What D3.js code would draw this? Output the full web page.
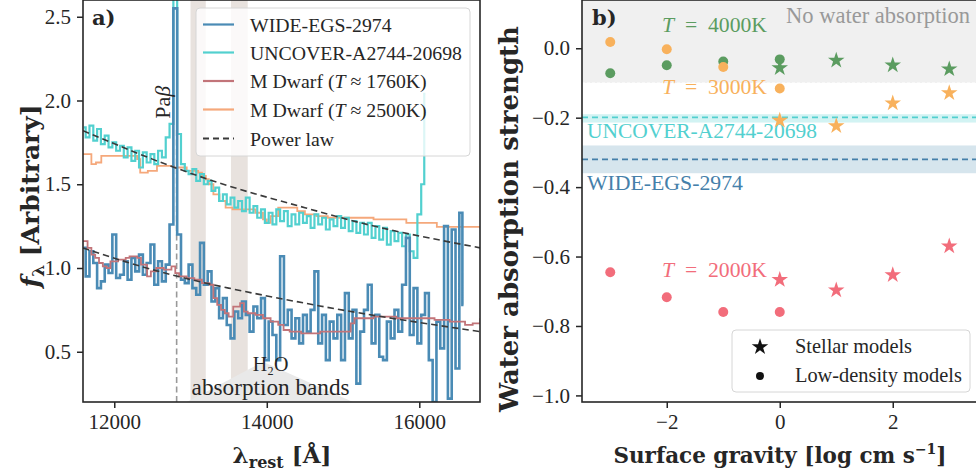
<!DOCTYPE html>
<html><head><meta charset="utf-8">
<script src="https://cdn.jsdelivr.net/npm/d3@7"></script>
<style>
body{margin:0;background:#fff;}
svg{display:block;}
text{font-family:"Liberation Serif",serif;fill:#262626;}
.bold{font-family:"DejaVu Serif",serif;font-weight:bold;}
</style></head>
<body>
<div id="chart"></div>
<script>
// ---------------- DATA ----------------
// Panel a: spectra (regular 50 Å grids + explicit tails)
const wideStart = 11600, wideStep = 50;
const wideFlux = [
 1.12,0.95,1.10,1.03,0.88,0.92,1.02,0.97,1.20,0.94,
 0.96,1.04,0.93,1.06,0.98,1.08,0.96,1.03,1.14,0.90,
 1.04,0.92,1.02,1.26,2.55,1.20,0.93,0.91,1.02,0.88,
 0.84,1.15,0.90,0.98,0.80,0.88,0.70,0.82,0.66,0.58,
 0.74,0.70,0.80,0.72,0.62,0.77,0.70,0.82,0.45,0.68,
 0.60,0.45,1.07,0.66,0.75,0.58,0.70,0.55,0.72,0.62,
 0.75,0.98,0.55,0.72,0.45,0.68,0.58,0.72,0.45,0.85,
 0.58,0.75,0.31,0.62,0.75,0.90,0.55,0.72,0.47,0.45,
 0.68,0.58,0.75,0.62,0.90,1.18,0.60,0.88,0.55,0.72,
 0.85,0.45,0.20,0.68,0.52,1.25,0.22,1.23,0.40,1.33];
const wideTailWave = [16580], wideTailFlux = [0.78];

const uncoverStart = 11600, uncoverStep = 50;
const uncoverFlux = [
 1.84,1.78,1.85,1.76,1.83,1.74,1.79,1.72,1.75,1.70,
 1.73,1.66,1.72,1.64,1.70,1.60,1.69,1.63,1.68,1.62,
 1.70,1.66,1.78,1.86,2.90,1.80,1.62,1.58,1.56,1.59,
 1.52,1.56,1.50,1.52,1.46,1.48,1.40,1.44,1.38,1.42,
 1.36,1.40,1.34,1.42,1.33,1.37,1.30,1.35,1.27,1.33,
 1.26,1.35,1.28,1.34,1.25,1.32,1.26,1.33,1.27,1.31,
 1.24,1.32,1.26,1.30,1.23,1.29,1.25,1.31,1.24,1.30,
 1.22,1.28,1.21,1.27,1.20,1.27,1.18,1.25,1.17,1.24,
 1.14,1.22,1.16,1.21,1.13,1.20,1.10,1.06,1.32,1.50];
const uncoverTailWave = [16080], uncoverTailFlux = [2.04];

const dwarf1760Wave = [11590,11650,11700,11750,11800,11850,11900,11950,12050,12150,
 12200,12300,12350,12430,12480,12550,12650,12750,12800,12850,
 12950,13050,13150,13250,13300,13350,13400,13450,13500,13560,
 13650,13700,13750,13850,13950,14050,14150,14220,14300,14450,
 14700,14900,15050,15100,15150,15400,15700,15960,16200,16400,
 16600,16700,16800];
const dwarf1760Flux = [1.16,1.12,1.08,1.06,1.03,1.01,1.00,1.04,1.05,1.06,
 1.07,1.06,1.02,0.95,0.98,1.00,0.99,1.01,0.97,0.95,
 0.94,0.93,0.91,0.90,0.82,0.78,0.75,0.73,0.71,0.77,
 0.79,0.74,0.73,0.72,0.70,0.68,0.66,0.63,0.62,0.61,
 0.62,0.62,0.62,0.67,0.70,0.71,0.70,0.70,0.69,0.68,
 0.66,0.67,0.70];

const dwarf2500Wave = [11590,11700,11760,11830,11880,12300,12340,12440,12560,12780,
 12950,13100,13150,13200,13240,13300,13380,13460,13550,13850,
 13950,14000,14050,14150,14400,14500,14650,14800,15400,15830,
 16200,16230,16800];
const dwarf2500Flux = [1.68,1.62,1.63,1.67,1.67,1.65,1.57,1.58,1.61,1.60,
 1.58,1.57,1.55,1.53,1.50,1.44,1.40,1.36,1.35,1.33,
 1.29,1.27,1.31,1.36,1.34,1.32,1.31,1.30,1.29,1.27,
 1.27,1.245,1.235];

// power-law curves
const powerWave = [11590,12500,13500,14500,15500,16800];
const powerUpper = [1.82,1.65,1.49,1.36,1.24,1.12];
const powerLower = [1.12,0.99,0.88,0.79,0.71,0.62];

const waterBands = [[13000,13200],[13530,13750]];
const paBetaWave = 12818, paBetaTop = 1.84;
const wedgeWave = [12950,13950,15130], wedgeFlux = [0.2,0.44,0.2];

const aXTicks = [12000,14000,16000];
const aYTicks = [0.5,1.0,1.5,2.0,2.5];

// Panel b: water absorption strength vs surface gravity
const stellarGravity = [0,1,2,3];
const lowDensityGravity = [-3,-2,-1,0];
const temps = ["4000","3000","2000"];
const stellar4000 = [-0.057,-0.035,-0.049,-0.060];
const stellar3000 = [-0.208,-0.224,-0.158,-0.129];
const stellar2000 = [-0.667,-0.697,-0.653,-0.570];
const lowDens4000 = [-0.072,-0.049,-0.038,-0.032];
const lowDens3000 = [0.018,-0.003,-0.054,-0.116];
const lowDens2000 = [-0.645,-0.717,-0.760,-0.760];

const noWaterLevel = -0.1;
const uncoverStrength = -0.199, uncoverRange = [-0.214,-0.190];
const wideStrength = -0.32, wideRange = [-0.36,-0.28];

const bXTicks = [-2,0,2];
const bYTicks = [0.0,-0.2,-0.4,-0.6,-0.8,-1.0];

// ---------------- STYLE ----------------
const C = {
  wide:"#4a8bb5", uncover:"#52d0cf", d1760:"#c27479", d2500:"#f5a87b",
  power:"#3a3a3a", band:"#e8e2de", wedge:"#e9e9e9",
  g:"#5b9c60", o:"#f8b15c", r:"#f26d7b",
  axis:"#262626"
};

const W=976,H=474;
const svg = d3.select("#chart").append("svg").attr("width",W).attr("height",H);
const defs = svg.append("defs");

// scale a text's font size so that its rendered width matches a target width
function fitW(sel, target){
  const n = sel.node(); const fs = parseFloat(sel.attr("font-size"));
  const w = n.getComputedTextLength();
  if (w>0) sel.attr("font-size", (fs*target/w).toFixed(2));
  return sel;
}

// ---------------- PANEL A ----------------
const A = {l:83,r:480,t:0,b:402};
const xA = d3.scaleLinear().domain([11590,16796]).range([A.l,A.r]);
const yA = d3.scaleLinear().domain([0.2,2.6]).range([A.b,A.t]);
defs.append("clipPath").attr("id","clipA").append("rect")
  .attr("x",A.l).attr("y",A.t).attr("width",A.r-A.l).attr("height",A.b-A.t);
const gA = svg.append("g");
const pA = gA.append("g").attr("clip-path","url(#clipA)");

pA.selectAll("rect.wb").data(waterBands).join("rect").attr("class","wb")
  .attr("x",d=>xA(d[0])).attr("width",d=>xA(d[1])-xA(d[0]))
  .attr("y",A.t).attr("height",A.b-A.t).attr("fill",C.band);

pA.append("path")
  .attr("d", d3.line()(wedgeWave.map((w,i)=>[xA(w),yA(wedgeFlux[i])])) + "Z")
  .attr("fill",C.wedge);

pA.append("line").attr("x1",xA(paBetaWave)).attr("x2",xA(paBetaWave))
  .attr("y1",yA(0.2)).attr("y2",yA(paBetaTop))
  .attr("stroke","#999").attr("stroke-width",1.6).attr("stroke-dasharray","6,3.5");

function gridSeries(start, step, flux, tw, tf){
  const pts = flux.map((f,i)=>[start+i*step,f]);
  tw.forEach((w,i)=>pts.push([w,tf[i]]));
  return pts;
}
const stepLine = d3.line().x(d=>xA(d[0])).y(d=>yA(d[1])).curve(d3.curveStep);
const stepAfter = d3.line().x(d=>xA(d[0])).y(d=>yA(d[1])).curve(d3.curveStepAfter);

const widePts = gridSeries(wideStart,wideStep,wideFlux,wideTailWave,wideTailFlux);
const uncPts = gridSeries(uncoverStart,uncoverStep,uncoverFlux,uncoverTailWave,uncoverTailFlux);

pA.append("path").attr("d",stepAfter(dwarf2500Wave.map((w,i)=>[w,dwarf2500Flux[i]])))
  .attr("fill","none").attr("stroke",C.d2500).attr("stroke-width",1.8);
pA.append("path").attr("d",stepLine(uncPts))
  .attr("fill","none").attr("stroke",C.uncover).attr("stroke-width",2.2);
pA.append("path").attr("d",stepLine(widePts))
  .attr("fill","none").attr("stroke",C.wide).attr("stroke-width",2.6);
pA.append("path").attr("d",stepAfter(dwarf1760Wave.map((w,i)=>[w,dwarf1760Flux[i]])))
  .attr("fill","none").attr("stroke",C.d1760).attr("stroke-width",1.8);

const smooth = d3.line().x(d=>xA(d[0])).y(d=>yA(d[1])).curve(d3.curveNatural);
[powerUpper,powerLower].forEach(arr=>{
  pA.append("path").attr("d",smooth(powerWave.map((w,i)=>[w,arr[i]])))
    .attr("fill","none").attr("stroke",C.power).attr("stroke-width",1.6)
    .attr("stroke-dasharray","6.5,4");
});

// annotations panel a
gA.append("text").attr("transform",`translate(${xA(paBetaWave)-7},${yA(1.99)}) rotate(-90)`)
  .attr("text-anchor","middle").attr("font-size",22)
  .html('Pa<tspan font-style="italic">β</tspan>');
gA.append("text").attr("x",xA(14050)).attr("y",371).attr("text-anchor","middle").attr("font-size",20).text("H₂O");
fitW(gA.append("text").attr("x",xA(14050)).attr("y",395).attr("text-anchor","middle").attr("font-size",21).text("absorption bands"),158);

// legend panel a
const legA = gA.append("g");
legA.append("rect").attr("x",196).attr("y",8).attr("width",274).attr("height",148).attr("rx",4)
  .attr("fill","#fff").attr("fill-opacity",0.8).attr("stroke","#d6d6d6").attr("stroke-width",1);
const legItems = [
  {c:C.wide,w:2.2,dash:null,t:'WIDE-EGS-2974'},
  {c:C.uncover,w:2.2,dash:null,t:'UNCOVER-A2744-20698'},
  {c:C.d1760,w:2.2,dash:null,t:'M Dwarf (<tspan font-style="italic">T</tspan> ≈ 1760K)'},
  {c:C.d2500,w:2.2,dash:null,t:'M Dwarf (<tspan font-style="italic">T</tspan> ≈ 2500K)'},
  {c:C.power,w:1.8,dash:"6,4",t:'Power law'}
];
const legY = [24.5,52.5,81,109.5,138.5];
const legTexts = [];
legItems.forEach((d,i)=>{
  legA.append("line").attr("x1",203).attr("x2",234).attr("y1",legY[i]).attr("y2",legY[i])
    .attr("stroke",d.c).attr("stroke-width",d.w).attr("stroke-dasharray",d.dash);
  legTexts.push(legA.append("text").attr("x",250).attr("y",legY[i]+7).attr("font-size",20).html(d.t));
});
fitW(legTexts[1],212);
legTexts.forEach(t=>t.attr("font-size",legTexts[1].attr("font-size")));

// axes panel a
function styleAxis(g){
  g.selectAll(".domain").remove();
  g.selectAll(".tick line").attr("stroke",C.axis).attr("stroke-width",1.5);
  g.selectAll(".tick text").attr("font-size",21).attr("fill",C.axis)
    .style("font-family","'Liberation Serif',serif");
}
gA.append("g").attr("transform",`translate(0,${A.b})`)
  .call(d3.axisBottom(xA).tickValues(aXTicks).tickFormat(d3.format("d")).tickSize(6).tickPadding(6))
  .call(styleAxis);
gA.append("g").attr("transform",`translate(${A.l},0)`)
  .call(d3.axisLeft(yA).tickValues(aYTicks).tickFormat(d3.format(".1f")).tickSize(6).tickPadding(6))
  .call(styleAxis);
gA.append("rect").attr("x",A.l).attr("y",A.t).attr("width",A.r-A.l).attr("height",A.b-A.t)
  .attr("fill","none").attr("stroke",C.axis).attr("stroke-width",1.6);
gA.append("text").attr("class","bold").attr("x",92).attr("y",25).attr("font-size",21).text("a)");

// axis labels a
const xlabA = svg.append("text").attr("class","bold").attr("x",282).attr("y",463).attr("text-anchor","middle").attr("font-size",23);
xlabA.append("tspan").text("λ");
xlabA.append("tspan").attr("font-size",16).attr("dy",5).text("rest");
xlabA.append("tspan").attr("dy",-5).text(" [Å]");
const ylabA = svg.append("text").attr("class","bold").attr("transform","translate(39,196) rotate(-90)")
  .attr("text-anchor","middle").attr("font-size",25);
ylabA.append("tspan").attr("font-style","italic").text("f");
ylabA.append("tspan").attr("font-size",17).attr("dy",5).text("λ");
ylabA.append("tspan").attr("dy",-5).text(" [Arbitrary]");

// ---------------- PANEL B ----------------
const B = {l:582,r:978,t:0,b:402};
const xB = d3.scaleLinear().domain([-3.5,3.5]).range([582,977.5]);
const yB = d3.scaleLinear().domain([-1.019,0.139]).range([B.b,B.t]);
defs.append("clipPath").attr("id","clipB").append("rect")
  .attr("x",B.l).attr("y",B.t).attr("width",B.r-B.l).attr("height",B.b-B.t);
const gB = svg.append("g");
const pB = gB.append("g").attr("clip-path","url(#clipB)");

pB.append("rect").attr("x",B.l).attr("width",B.r-B.l).attr("y",yB(0.139)).attr("height",yB(noWaterLevel)-yB(0.139)).attr("fill","#f0f0f0");
pB.append("line").attr("x1",B.l).attr("x2",B.r).attr("y1",yB(noWaterLevel)).attr("y2",yB(noWaterLevel))
  .attr("stroke","#fff").attr("stroke-width",1).attr("stroke-dasharray","3,2");
pB.append("rect").attr("x",B.l).attr("width",B.r-B.l).attr("y",yB(uncoverRange[1])).attr("height",yB(uncoverRange[0])-yB(uncoverRange[1])).attr("fill","#d2f3f3");
pB.append("rect").attr("x",B.l).attr("width",B.r-B.l).attr("y",yB(wideRange[1])).attr("height",yB(wideRange[0])-yB(wideRange[1])).attr("fill","#d6e5ed");
pB.append("line").attr("x1",B.l).attr("x2",B.r).attr("y1",yB(uncoverStrength)).attr("y2",yB(uncoverStrength))
  .attr("stroke",C.uncover).attr("stroke-width",1.6).attr("stroke-dasharray","6,4");
pB.append("line").attr("x1",B.l).attr("x2",B.r).attr("y1",yB(wideStrength)).attr("y2",yB(wideStrength))
  .attr("stroke","#4580aa").attr("stroke-width",1.6).attr("stroke-dasharray","6,4");

fitW(pB.append("text").attr("x",786).attr("y",23).attr("font-size",22).style("fill","#999").text("No water absorption"),184);
fitW(pB.append("text").attr("x",587).attr("y",138).attr("font-size",21).style("fill",C.uncover).text("UNCOVER-A2744-20698"),230);
fitW(pB.append("text").attr("x",587).attr("y",190).attr("font-size",21).style("fill","#4580aa").text("WIDE-EGS-2974"),156);

const tLab = [{t:"4000",c:C.g,y:32},{t:"3000",c:C.o,y:94},{t:"2000",c:C.r,y:277}];
tLab.forEach(d=>{
  fitW(pB.append("text").attr("x",662).attr("y",d.y).attr("font-size",21).style("fill",d.c)
    .html(`<tspan font-style="italic">T</tspan>\u2002=\u2002${d.t}K`),105);
});

const star = d3.symbol().type(d3.symbolStar).size(85);
const circ = d3.symbol().type(d3.symbolCircle).size(78);
const seriesB = [
  {s:stellar4000,l:lowDens4000,c:C.g},
  {s:stellar3000,l:lowDens3000,c:C.o},
  {s:stellar2000,l:lowDens2000,c:C.r}
];
seriesB.forEach(d=>{
  pB.selectAll(null).data(d.l).join("path").attr("d",circ())
    .attr("transform",(v,i)=>`translate(${xB(lowDensityGravity[i])},${yB(v)})`).attr("fill",d.c);
  pB.selectAll(null).data(d.s).join("path").attr("d",star())
    .attr("transform",(v,i)=>`translate(${xB(stellarGravity[i])},${yB(v)})`).attr("fill",d.c);
});

// legend b
const legB = gB.append("g");
legB.append("rect").attr("x",732).attr("y",330).attr("width",238).attr("height",62).attr("rx",4)
  .attr("fill","#fff").attr("fill-opacity",0.8).attr("stroke","#d6d6d6");
legB.append("path").attr("d",star()).attr("transform","translate(760,347)").attr("fill","#111");
legB.append("path").attr("d",d3.symbol().type(d3.symbolCircle).size(50)()).attr("transform","translate(760,376)").attr("fill","#111");
const lb1 = legB.append("text").attr("x",795).attr("y",353).attr("font-size",20).text("Stellar models");
const lb2 = fitW(legB.append("text").attr("x",795).attr("y",382).attr("font-size",20).text("Low-density models"),167);
lb1.attr("font-size",lb2.attr("font-size"));

const minus = v=>String(v).replace("-","−");
gB.append("g").attr("transform",`translate(0,${B.b})`)
  .call(d3.axisBottom(xB).tickValues(bXTicks).tickFormat(d=>minus(d)).tickSize(6).tickPadding(6))
  .call(styleAxis);
gB.append("g").attr("transform",`translate(${B.l},0)`)
  .call(d3.axisLeft(yB).tickValues(bYTicks).tickFormat(d=>minus(d3.format(".1f")(d))).tickSize(6).tickPadding(6))
  .call(styleAxis);
gB.append("rect").attr("x",B.l).attr("y",B.t).attr("width",B.r-B.l).attr("height",B.b-B.t)
  .attr("fill","none").attr("stroke",C.axis).attr("stroke-width",1.6);
gB.append("text").attr("class","bold").attr("x",592).attr("y",25).attr("font-size",21).text("b)");

const xlabB = svg.append("text").attr("class","bold").attr("x",780).attr("y",463).attr("text-anchor","middle").attr("font-size",21.5);
xlabB.append("tspan").text("Surface gravity [log cm s");
xlabB.append("tspan").attr("font-size",14).attr("dy",-9).text("−1");
xlabB.append("tspan").attr("dy",9).text("]");
svg.append("text").attr("class","bold").attr("transform","translate(518,219) rotate(-90)")
  .attr("text-anchor","middle").attr("font-size",26).text("Water absorption strength");
</script>
</body></html>
